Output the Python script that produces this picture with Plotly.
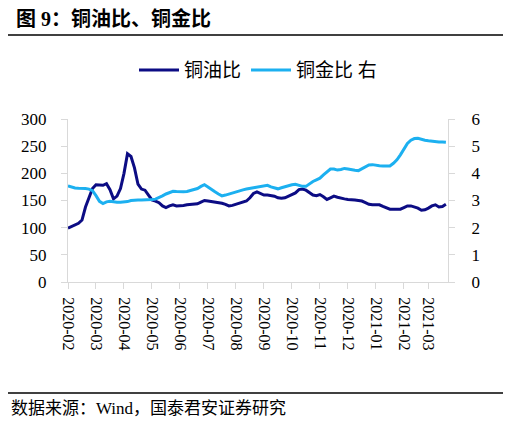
import plotly.graph_objects as go

# 铜油比（左轴），半周一个点
copper_oil = [99, 102, 105, 108, 114, 138, 155, 172, 179, 179,
              178, 181, 170, 153, 158, 172, 200, 236, 231, 210,
              180, 171, 169, 160, 151, 149, 146, 140, 137, 140,
              142, 140, 140, 141, 142, 143, 143, 144, 147, 150,
              149, 148, 148, 147, 145, 143, 140, 141, 143, 145,
              147, 149, 155, 163, 166, 163, 160, 160, 159, 158,
              155, 154, 155, 158, 160, 164, 170, 171, 169, 165,
              160, 159, 161, 157, 152, 155, 158, 156, 154, 153,
              152, 152, 151, 150, 149, 146, 143, 142, 142, 142,
              139, 136, 134, 134, 134, 134, 137, 140, 140, 138,
              136, 132, 133, 136, 140, 142, 138, 139, 143]

# 铜金比（右轴）
copper_gold = [3.54, 3.50, 3.46, 3.45, 3.45, 3.44, 3.42, 3.36, 3.18, 2.97,
               2.89, 2.95, 2.97, 2.95, 2.94, 2.94, 2.95, 2.96, 3.00, 3.02,
               3.02, 3.02, 3.02, 3.03, 3.04, 3.05, 3.10, 3.17, 3.24, 3.30,
               3.34, 3.33, 3.32, 3.32, 3.33, 3.36, 3.40, 3.44, 3.52, 3.58,
               3.50, 3.40, 3.32, 3.24, 3.17, 3.20, 3.24, 3.28, 3.33, 3.36,
               3.39, 3.42, 3.44, 3.46, 3.48, 3.50, 3.53, 3.56, 3.50, 3.45,
               3.43, 3.47, 3.51, 3.55, 3.58, 3.60, 3.57, 3.52, 3.52, 3.62,
               3.70, 3.76, 3.82, 3.94, 4.06, 4.16, 4.16, 4.12, 4.14, 4.18,
               4.16, 4.13, 4.11, 4.10, 4.16, 4.24, 4.31, 4.32, 4.29, 4.28,
               4.27, 4.26, 4.27, 4.37, 4.50, 4.68, 4.88, 5.10, 5.22, 5.28,
               5.29, 5.25, 5.22, 5.20, 5.18, 5.16, 5.15, 5.15, 5.14]

tick_idx = [0, 8, 16, 24, 32, 40, 48, 56, 64, 72, 80, 88, 96, 103]
tick_lbl = ['2020-02', '2020-03', '2020-04', '2020-05', '2020-06', '2020-07',
            '2020-08', '2020-09', '2020-10', '2020-11', '2020-12', '2021-01',
            '2021-02', '2021-03']

x = list(range(len(copper_oil)))

FONT = 'Liberation Serif, Noto Sans CJK SC'
DARK = '#0c0c84'
LIGHT = '#1cb0f0'
GRID = '#d9d9d9'

fig = go.Figure()
fig.add_trace(go.Scatter(x=x, y=copper_oil, name='铜油比', mode='lines',
                         line=dict(color=DARK, width=3)))
fig.add_trace(go.Scatter(x=x, y=copper_gold, name='铜金比 右', mode='lines',
                         line=dict(color=LIGHT, width=3), yaxis='y2'))

# 页面 body 自带 8px 边距，所以画布比窗口小 8px
fig.update_layout(
    width=503, height=416,
    margin=dict(l=60, r=63, t=111, b=142, autoexpand=False),
    paper_bgcolor='white', plot_bgcolor='white',
    font=dict(family=FONT, size=16, color='black'),
    showlegend=True,
    legend=dict(orientation='h', x=0.5, xanchor='center', y=1.30, yanchor='middle',
                font=dict(size=19), itemwidth=40, tracegroupgap=0),
    xaxis=dict(range=[0, 108.6], tickmode='array', tickvals=tick_idx, ticktext=tick_lbl,
               tickangle=90, ticks='outside', ticklen=6, tickcolor=GRID,
               showline=True, linecolor=GRID, linewidth=1, showgrid=False,
               zeroline=False, tickfont=dict(size=16), automargin=False,
               ticklabelstandoff=5),
    yaxis=dict(range=[0, 300], dtick=50, ticks='outside', ticklen=6, tickcolor=GRID,
               showline=True, linecolor=GRID, showgrid=False, zeroline=False,
               tickfont=dict(size=17), automargin=False, ticklabelstandoff=11),
    yaxis2=dict(range=[0, 6], dtick=1, overlaying='y', side='right', ticks='outside',
                ticklen=6, tickcolor=GRID, showline=True, linecolor=GRID,
                showgrid=False, zeroline=False, tickfont=dict(size=17),
                automargin=False, ticklabelstandoff=13),
)

fig.add_annotation(text='<b>图 9：铜油比、铜金比</b>', xref='paper', yref='paper',
                   x=-54 / 380, y=1 + (119 - 18) / 163, xanchor='left', yanchor='middle',
                   showarrow=False, font=dict(size=20, family=FONT))
fig.add_annotation(text='数据来源：Wind，国泰君安证券研究', xref='paper', yref='paper',
                   x=-59 / 380, y=-(408 - 282) / 163, xanchor='left', yanchor='middle',
                   showarrow=False, font=dict(size=17, family=FONT))

# 标题下和来源上的横线
fig.add_shape(type='line', xref='paper', yref='paper',
              x0=-66 / 380, x1=1 + 63 / 380, y0=1 + (119 - 35) / 163, y1=1 + (119 - 35) / 163,
              line=dict(color='black', width=1.5))
fig.add_shape(type='line', xref='paper', yref='paper',
              x0=-66 / 380, x1=1 + 63 / 380, y0=-(393 - 282) / 163, y1=-(393 - 282) / 163,
              line=dict(color='black', width=1.5))

fig.write_html('out.html')
